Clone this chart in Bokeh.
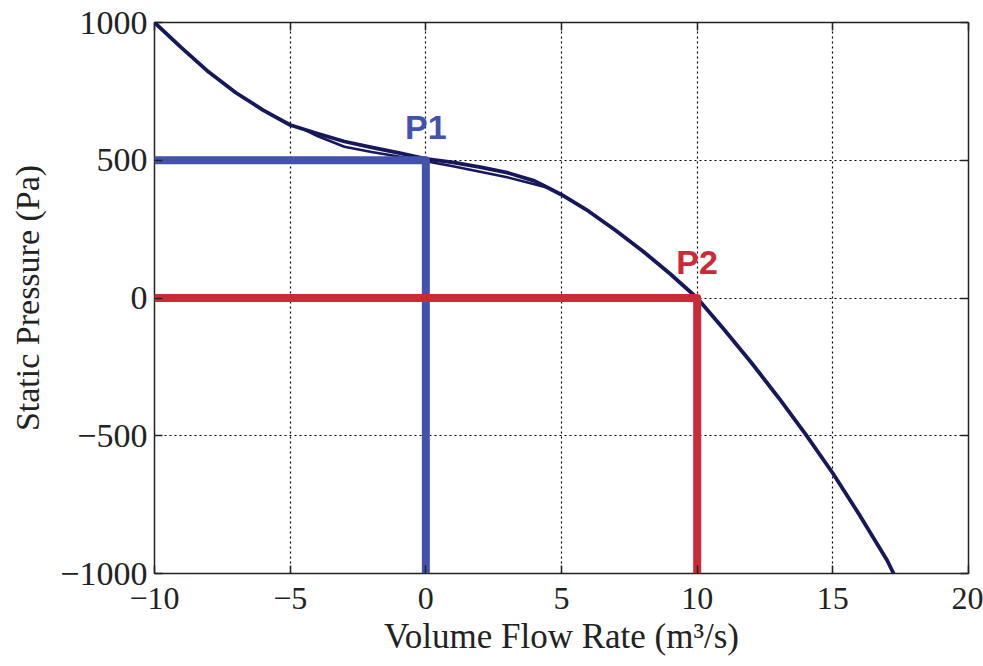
from bokeh.plotting import figure
from bokeh.models import Range1d, LinearAxis, FixedTicker
from bokeh.core.properties import value
from bokeh.embed import file_html
from bokeh.resources import INLINE

# ---- data ----
flow = [-10, -9, -8, -7, -6, -5, -4, -3, -2, -1, 0, 1, 2, 3, 4, 4.5,
        5, 6, 7, 8, 9, 10, 11, 12, 13, 14, 15, 16, 17, 17.24]
pressure = [1000, 908, 820, 745, 682, 628, 597, 568, 547, 527, 505, 492, 475, 455, 425, 400,
            375, 315, 245, 170, 88, 0, -115, -235, -362, -495, -636, -790, -952, -1000]
flow_alt = [-4.5, -4, -3, -2, -1, 0, 1, 2, 3, 4, 4.5]
pressure_alt = [612, 588, 549, 530, 514, 496, 478, 458, 438, 413, 400]

op_flow = [0, 10]
op_pressure = [500, 0]
op_labels = ["P1", "P2"]

x_ticks = [-10, -5, 0, 5, 10, 15, 20]
y_ticks = [-1000, -500, 0, 500, 1000]
x_lim = (-10, 20)
y_lim = (-1000, 1000)

x_title = "Volume Flow Rate (m³/s)"
y_title = "Static Pressure (Pa)"

# ---- style ----
BLUE = "#4352ad"
RED = "#cc2a36"
NAVY = "#17175c"
SERIF = "Liberation Serif"

p = figure(width=983, height=666, output_backend="svg", toolbar_location=None,
           x_range=Range1d(*x_lim), y_range=Range1d(*y_lim),
           min_border_left=154, min_border_right=15, min_border_top=22, min_border_bottom=93)
p.background_fill_color = "white"
p.border_fill_color = "white"
p.outline_line_color = "#222222"
p.outline_line_width = 1.5

def style_axis(ax, ticks, size="32px", labels=True):
    ax.ticker = FixedTicker(ticks=ticks)
    ax.major_tick_in = 8
    ax.major_tick_out = 0
    ax.minor_tick_line_color = None
    ax.major_tick_line_color = "#222222"
    ax.major_tick_line_width = 1.5
    ax.axis_line_color = None
    ax.major_label_text_font = SERIF
    ax.major_label_text_color = "#222222"
    ax.major_label_text_font_size = size
    if labels:
        ax.major_label_overrides = {t: ("−" + str(abs(t)) if t < 0 else str(t)) for t in ticks}
    else:
        ax.major_label_overrides = {t: "" for t in ticks}
        ax.major_label_standoff = 0

style_axis(p.xaxis[0], x_ticks, "32px")
style_axis(p.yaxis[0], y_ticks, "34px")
p.xaxis.major_label_standoff = 14
p.yaxis.major_label_standoff = 7

p.xaxis.axis_label = x_title
p.yaxis.axis_label = y_title
for ax, sz in ((p.xaxis[0], "35px"), (p.yaxis[0], "34px")):
    ax.axis_label_text_font = SERIF
    ax.axis_label_text_font_size = sz
    ax.axis_label_text_font_style = "normal"
    ax.axis_label_text_color = "#222222"
p.xaxis.axis_label_standoff = 5
p.yaxis.axis_label_standoff = 11

top = LinearAxis()
style_axis(top, x_ticks, size="2px", labels=False)
p.add_layout(top, "above")
right = LinearAxis()
style_axis(right, y_ticks, size="2px", labels=False)
p.add_layout(right, "right")

p.xgrid.ticker = FixedTicker(ticks=x_ticks)
p.ygrid.ticker = FixedTicker(ticks=y_ticks)
for g in (p.xgrid[0], p.ygrid[0]):
    g.grid_line_color = "black"
    g.grid_line_dash = "2 3"
    g.grid_line_width = 1.2

# fan curve (double-traced)
p.line(flow_alt, pressure_alt, line_color=NAVY, line_width=2.5)
p.line(flow, pressure, line_color=NAVY, line_width=3.8, line_join="round")

# operating points
colors = [BLUE, RED]
for fx, fy, c in zip(op_flow, op_pressure, colors):
    p.line([x_lim[0], fx], [fy, fy], line_color=c, line_width=8, line_cap="round")
    p.line([fx, fx], [fy, y_lim[0]], line_color=c, line_width=8, line_cap="butt")

p.text(x=[op_flow[0]], y=[op_pressure[0]], text=[op_labels[0]], text_color=BLUE,
       text_font=value("Liberation Sans"), text_font_style="bold", text_font_size="34px",
       text_align="center", text_baseline="bottom", y_offset=-14)
p.text(x=[op_flow[1]], y=[op_pressure[1]], text=[op_labels[1]], text_color=RED,
       text_font=value("Liberation Sans"), text_font_style="bold", text_font_size="34px",
       text_align="center", text_baseline="bottom", y_offset=-17)

open("out.html", "w").write(file_html(p, INLINE))
